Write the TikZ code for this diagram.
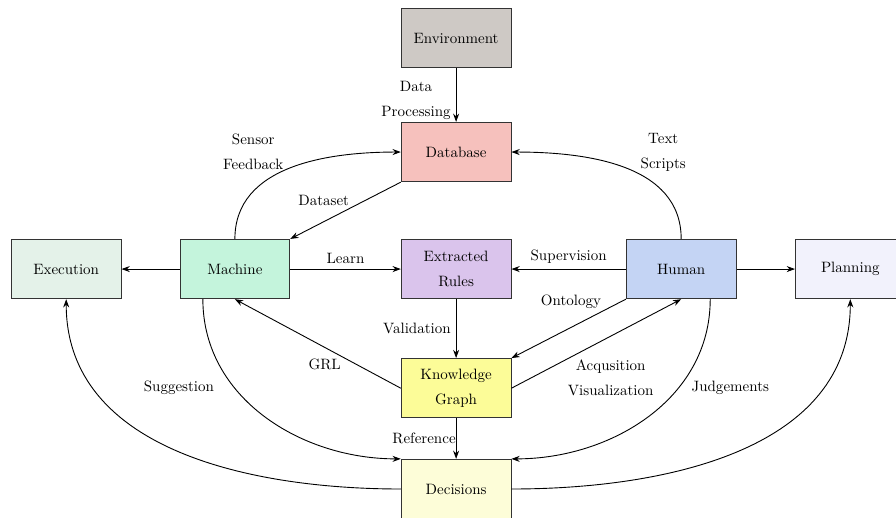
\documentclass[tikz,border=0pt]{standalone}
\usetikzlibrary{arrows.meta}

\definecolor{envcol}{HTML}{CEC9C5}
\definecolor{dbcol}{HTML}{F6C1BD}
\definecolor{rulecol}{HTML}{DAC4EC}
\definecolor{kgcol}{HTML}{FCFC98}
\definecolor{deccol}{HTML}{FDFDD8}
\definecolor{execcol}{HTML}{E4F2E9}
\definecolor{machcol}{HTML}{C4F4DC}
\definecolor{humcol}{HTML}{C4D4F4}
\definecolor{plancol}{HTML}{F2F2FC}

\tikzset{
  box/.style={draw=black!80, minimum width=2.57cm, minimum height=1.39cm, align=center},
  lbl/.style={align=center},
}

\begin{document}
\begin{tikzpicture}[>={Stealth[length=5.5pt, width=4pt]}, x=1.0 cm, y=1.0 cm, line width=0.6pt]
\useasboundingbox (0,0) rectangle (20.98,12.11);
% boxes
\node[box, fill=envcol] (env) at (10.68,11.22) {Environment};
\node[box, fill=dbcol] (db) at (10.68,8.55) {Database};
\node[box, fill=rulecol] (rules) at (10.68,5.81) {Extracted\\[4.7pt]Rules};
\node[box, fill=kgcol] (kg) at (10.68,3.02) {Knowledge\\[4.7pt]Graph};
\node[box, fill=deccol] (dec) at (10.68,0.66) {Decisions};
\node[box, fill=execcol] (exec) at (1.55,5.81) {Execution};
\node[box, fill=machcol] (mach) at (5.50,5.81) {Machine};
\node[box, fill=humcol] (human) at (15.95,5.81) {Human};
\node[box, fill=plancol] (plan) at (19.91,5.81) {Planning};
% straight links
\draw[->] (env) -- node[pos=0.6, left, lbl] (lproc) {Data\\[4.7pt]Processing} (db);
\draw[->] (db.south west) -- node[pos=0.45, above left, inner sep=1pt] (ldata) {Dataset} (mach.north east);
\draw[->] (mach) -- (exec);
\draw[->] (mach) -- node[above] (llearn) {Learn} (rules);
\draw[->] (human) -- node[above] (lsup) {Supervision} (rules);
\draw[->] (human) -- (plan);
\draw[->] (rules) -- node[left] (lval) {Validation} (kg);
\draw[->] (human.south west) -- node[pos=0.2, above left, inner sep=1pt] (lont) {Ontology} (kg.north east);
\draw[->] (kg.east) -- node[pos=0.33, below right, inner sep=0pt, lbl] (lacq) {Acqusition\\[4.7pt]Visualization} (human.south);
\draw[->] (kg.west) -- node[pos=0.35, below left, inner sep=1pt] (lgrl) {GRL} (mach.south);
\draw[->] (kg) -- node[left, inner sep=0pt] (lref) {Reference} (dec);
% curved links
\draw[->] (mach.north) to[out=90, in=180] (db.west);
\draw[->] (human.north) to[out=90, in=0] (db.east);
\draw[->] ([xshift=-0.75cm]mach.south) to[out=-90, in=180] (dec.north west);
\draw[->] ([xshift=0.68cm]human.south) to[out=-90, in=0] (dec.north east);
\draw[->] (dec.west) to[out=180, in=-90] (exec.south);
\draw[->] (dec.east) to[out=0, in=-90] (plan.south);
% labels of the curves
\node[lbl] (lsensor) at (5.93,8.55) {Sensor\\[4.7pt]Feedback};
\node[lbl] (ltext) at (15.53,8.55) {Text\\[4.7pt]Scripts};
\node (lsug) at (4.19,3.02) {Suggestion};
\node (ljudge) at (17.10,3.02) {Judgements};
\end{tikzpicture}
\end{document}
